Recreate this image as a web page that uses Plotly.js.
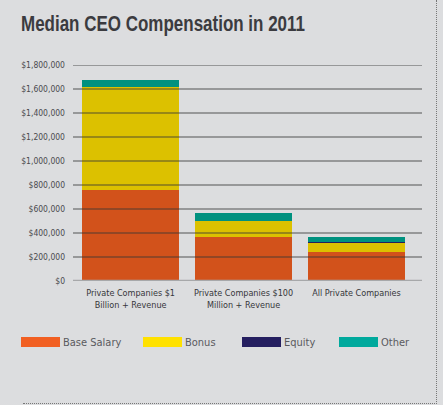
<!DOCTYPE html>
<html>
<head>
<meta charset="utf-8">
<script src="https://cdn.plot.ly/plotly-3.0.1.min.js"></script>
<style>
  html, body { margin: 0; padding: 0; background: #dcdddf; }
  #wrap { position: relative; width: 443px; height: 405px; }
  #chart { width: 443px; height: 405px; }
  #frame {
    position: absolute; left: 23px; top: 0; width: 413px; height: 403px;
    border-right: 1px dotted #777; border-bottom: 1px dotted #777;
    pointer-events: none;
  }
</style>
</head>
<body>
<div id="wrap">
  <div id="chart"></div>
  <div id="frame"></div>
</div>
<script>
'use strict';

/* ---------- data ---------- */
var categories = ['Private Companies $1<br>Billion + Revenue',
                  'Private Companies $100<br>Million + Revenue',
                  'All Private Companies'];
var baseSalary = [757000, 364000, 239000];
var bonus      = [860000, 140000,  75000];
var equity     = [     0,      0,   7000];
var other      = [ 58000,  61000,  43000];
var seriesNames = ['Base Salary', 'Bonus', 'Equity', 'Other'];
var tickVals   = [0, 200000, 400000, 600000, 800000, 1000000, 1200000, 1400000, 1600000, 1800000];

/* bar fills are a touch darker than the legend swatches */
var barColors    = ['#d2521b', '#dcc100', '#251e5e', '#00917f'];
var legendColors = ['#f15f22', '#ffe100', '#251f60', '#00a99d'];
var FONT = '"DejaVu Sans Condensed", "Liberation Sans", sans-serif';
var TITLE_FONT = '"Liberation Sans", Arial, sans-serif';

var x = [0, 1, 2];
var traces = [baseSalary, bonus, equity, other].map(function (vals, i) {
  return {
    type: 'bar', x: x, y: vals, name: seriesNames[i],
    marker: { color: barColors[i], line: { width: 0 } },
    hoverinfo: 'y+name', showlegend: false
  };
});

/* gridlines sit on top of the bars in the original */
var shapes = tickVals.filter(function (v) { return v > 0; }).map(function (v) {
  return { type: 'line', xref: 'paper', x0: 0, x1: 1, yref: 'y', y0: v, y1: v,
           layer: 'above', line: { color: 'rgba(55,55,55,0.55)', width: 1.3 } };
});
shapes.push({ type: 'line', xref: 'paper', x0: 0, x1: 1, yref: 'y', y0: 0, y1: 0,
              layer: 'above', line: { color: '#a7a8aa', width: 2.5 } });

/* hand-made legend: wide swatches + labels below the plot */
var legendX = [21, 143, 242, 339];   // px from the left edge
var annotations = [];
function px2paper(px) { return (px - 73) / 349; }
seriesNames.forEach(function (name, i) {
  shapes.push({ type: 'rect', xref: 'paper', yref: 'paper',
                x0: px2paper(legendX[i]), x1: px2paper(legendX[i] + 39),
                y0: (281 - 347) / 216, y1: (281 - 337) / 216,
                fillcolor: legendColors[i], line: { width: 0 } });
  annotations.push({ xref: 'paper', yref: 'paper', x: px2paper(legendX[i] + 40),
                     y: (281 - 342) / 216, xanchor: 'left', yanchor: 'middle',
                     text: name, showarrow: false,
                     font: { family: FONT, size: 11, color: '#5a5a5e' } });
});

Plotly.newPlot('chart', traces, {
  width: 443, height: 405,
  paper_bgcolor: '#dcdddf', plot_bgcolor: '#dcdddf',
  font: { family: FONT, color: '#4a4a4e' },
  margin: { t: 65, r: 21, b: 124, l: 73 },
  title: { text: 'Median CEO Compensation in 2011',
           x: 21 / 443, xanchor: 'left', y: 1 - 23 / 405, yanchor: 'middle',
           font: { family: TITLE_FONT, size: 22, weight: 'bold', color: '#3b3b40' } },
  barmode: 'stack', bargap: 0.142,
  xaxis: {
    range: [-0.51, 2.58], tickvals: x, ticktext: categories,
    showgrid: false, zeroline: false, showline: false, ticks: '',
    ticklabelstandoff: 5,
    tickfont: { family: FONT, size: 9, color: '#36363a' }
  },
  yaxis: {
    range: [0, 1800000], tickvals: tickVals,
    tickformat: '$,.0f', showgrid: false, zeroline: false, showline: false,
    ticks: '', ticklabelstandoff: 7,
    tickfont: { family: FONT, size: 8.5, color: '#4a4a4e' }
  },
  shapes: shapes, annotations: annotations, showlegend: false
}, { displayModeBar: false, staticPlot: true }).then(function (gd) {
  /* the original title is set in a narrow face: squeeze ours to the same width */
  var t = gd.querySelector('.gtitle');
  if (t) {
    t.setAttribute('textLength', '284');
    t.setAttribute('lengthAdjust', 'spacingAndGlyphs');
  }
});
</script>
</body>
</html>
